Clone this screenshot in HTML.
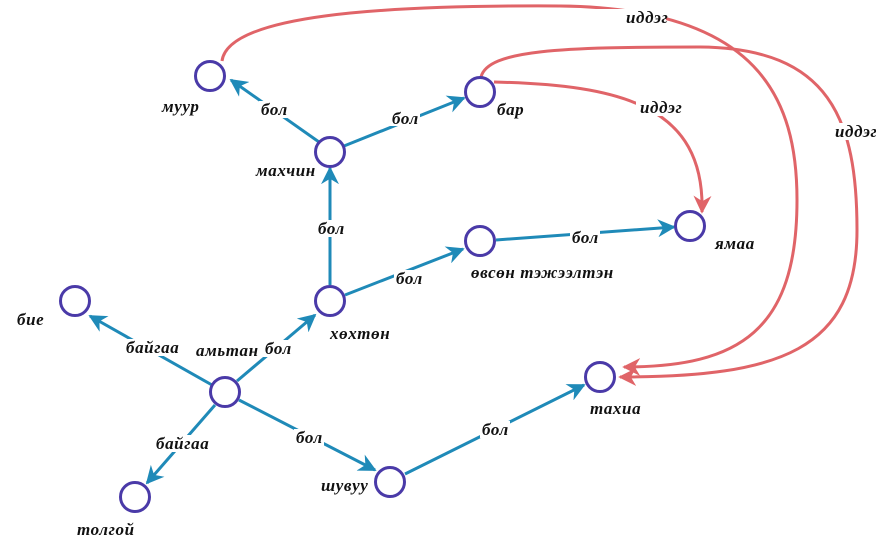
<!DOCTYPE html>
<html><head><meta charset="utf-8"><style>
html,body{margin:0;padding:0;background:#fff;}
text{font-family:"Liberation Serif",serif;font-style:italic;font-weight:bold;font-size:17px;letter-spacing:0.6px;fill:#111;}
.b{stroke:#1f8ab8;stroke-width:3;fill:none;}
.r{stroke:#e06468;stroke-width:3;fill:none;}
.n{stroke:#4a3aa8;stroke-width:3;fill:#fff;}
</style></head><body>
<svg width="876" height="543" xmlns="http://www.w3.org/2000/svg">
<defs>
<marker id="ab" viewBox="0 0 10 10" refX="9" refY="5" markerWidth="6" markerHeight="6" markerUnits="strokeWidth" orient="auto"><path d="M0,0 L10,5 L0,10 L3,5 z" fill="#1f8ab8"/></marker>
<marker id="ar" viewBox="0 0 10 10" refX="9" refY="5" markerWidth="6" markerHeight="6" markerUnits="strokeWidth" orient="auto"><path d="M0,0 L10,5 L0,10 L3,5 z" fill="#e06468"/></marker>
</defs>
<path class="r" d="M222,61 C228,15 380,5 560,6 C760,8 797,100 797,200 C797,330 740,367 624,367" marker-end="url(#ar)"/>
<path class="r" d="M481,77 C488,50 560,47 700,47 C830,48 857,120 857,230 C857,350 780,377 620,377" marker-end="url(#ar)"/>
<path class="r" d="M494,82 C620,85 705,105 702,212" marker-end="url(#ar)"/>
<path class="b" d="M319,142 L231,80" marker-end="url(#ab)"/>
<path class="b" d="M344,146 L464,98" marker-end="url(#ab)"/>
<path class="b" d="M330,285 L330,168" marker-end="url(#ab)"/>
<path class="b" d="M345,295 L463,249" marker-end="url(#ab)"/>
<path class="b" d="M496,240 L674,227" marker-end="url(#ab)"/>
<path class="b" d="M212,385 L90,316" marker-end="url(#ab)"/>
<path class="b" d="M237,381 L315,315" marker-end="url(#ab)"/>
<path class="b" d="M215,405 L147,483" marker-end="url(#ab)"/>
<path class="b" d="M239,400 L375,470" marker-end="url(#ab)"/>
<path class="b" d="M405,474 L584,385" marker-end="url(#ab)"/>
<circle class="n" cx="210" cy="76" r="14.5"/>
<circle class="n" cx="480" cy="92" r="14.5"/>
<circle class="n" cx="330" cy="152" r="14.5"/>
<circle class="n" cx="480" cy="241" r="14.5"/>
<circle class="n" cx="690" cy="226" r="14.5"/>
<circle class="n" cx="330" cy="301" r="14.5"/>
<circle class="n" cx="75" cy="301" r="14.5"/>
<circle class="n" cx="225" cy="392" r="14.5"/>
<circle class="n" cx="600" cy="377" r="14.5"/>
<circle class="n" cx="390" cy="482" r="14.5"/>
<circle class="n" cx="135" cy="497" r="14.5"/>
<g fill="#fff">
<rect x="259" y="101" width="30" height="17"/>
<rect x="390" y="109" width="30" height="17"/>
<rect x="316" y="220" width="28" height="17"/>
<rect x="394" y="270" width="30" height="17"/>
<rect x="570" y="229" width="30" height="17"/>
<rect x="124" y="339" width="52" height="17"/>
<rect x="263" y="340" width="30" height="17"/>
<rect x="154" y="435" width="52" height="17"/>
<rect x="294" y="429" width="30" height="17"/>
<rect x="480" y="421" width="30" height="17"/>
<rect x="596" y="9" width="70" height="17"/>
<rect x="636" y="99" width="46" height="17"/>
<rect x="834" y="123" width="42" height="17"/>
</g>
<text x="261" y="115">бол</text>
<text x="392" y="124">бол</text>
<text x="318" y="234">бол</text>
<text x="396" y="284">бол</text>
<text x="572" y="243">бол</text>
<text x="126" y="353">байгаа</text>
<text x="265" y="354">бол</text>
<text x="156" y="449">байгаа</text>
<text x="296" y="443">бол</text>
<text x="482" y="435">бол</text>
<text x="626" y="23">иддэг</text>
<text x="640" y="113">иддэг</text>
<text x="835" y="137">иддэг</text>
<text x="162" y="112">муур</text>
<text x="497" y="115">бар</text>
<text x="256" y="176">махчин</text>
<text x="471" y="278">өвсөн тэжээлтэн</text>
<text x="715" y="249">ямаа</text>
<text x="330" y="339">хөхтөн</text>
<text x="17" y="325">бие</text>
<text x="196" y="356">амьтан</text>
<text x="590" y="414">тахиа</text>
<text x="321" y="491">шувуу</text>
<text x="77" y="535">толгой</text>
</svg>
</body></html>
